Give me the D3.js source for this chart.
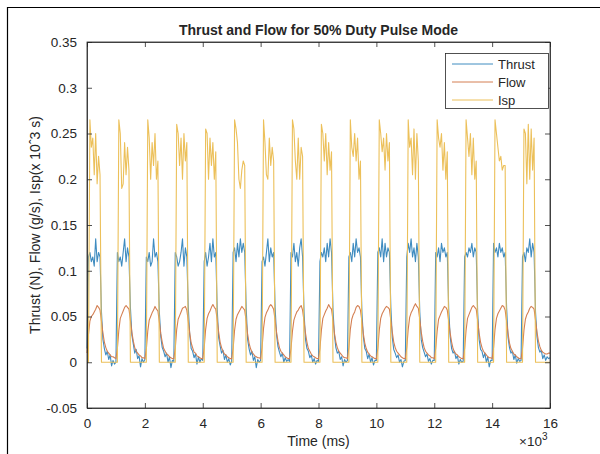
<!DOCTYPE html>
<html>
<head>
<meta charset="utf-8">
<script src="https://cdn.jsdelivr.net/npm/d3@7"></script>
<style>
  body { margin: 0; background: #fff; }
  svg text { font-family: "Liberation Sans", Arial, sans-serif; fill: #262626; }
</style>
</head>
<body>
<div id="chart"></div>
<script>
// sample step of the recording (ms)
const sampleStep = 50;

// one row per 1000 ms pulse period, 20 samples each, plus a last sample at 16000 ms
const thrust = [
  0.015, 0.115, 0.12, 0.11, 0.115, 0.105, 0.135, 0.11, 0.12, 0.115, 0.055, 0.025, 0.015, 0.008, 0.012, 0.003, 0.008, -0.004, 0.002, -0.002,
  0.0, 0.12, 0.11, 0.115, 0.105, 0.12, 0.135, 0.11, 0.125, 0.115, 0.06, 0.03, 0.02, 0.01, 0.014, 0.004, 0.007, -0.005, 0.004, 0.0,
  0.003, 0.115, 0.11, 0.12, 0.105, 0.11, 0.135, 0.115, 0.12, 0.11, 0.055, 0.028, 0.016, 0.012, 0.006, 0.01, 0.0, 0.006, -0.006, 0.002,
  0.001, 0.12, 0.115, 0.105, 0.11, 0.12, 0.135, 0.105, 0.125, 0.115, 0.06, 0.03, 0.015, 0.012, 0.005, 0.009, -0.002, 0.006, 0.0, 0.004,
  0.002, 0.11, 0.12, 0.105, 0.115, 0.13, 0.11, 0.135, 0.115, 0.12, 0.058, 0.027, 0.018, 0.01, 0.013, 0.003, 0.008, 0.0, 0.004, -0.003,
  0.001, 0.12, 0.125, 0.11, 0.13, 0.115, 0.135, 0.12, 0.13, 0.12, 0.06, 0.025, 0.015, 0.008, 0.012, 0.002, 0.006, -0.006, 0.003, 0.0,
  0.002, 0.11, 0.115, 0.105, 0.12, 0.135, 0.11, 0.125, 0.115, 0.12, 0.06, 0.03, 0.017, 0.011, 0.006, 0.01, 0.0, 0.005, 0.001, 0.003,
  0.001, 0.12, 0.115, 0.13, 0.11, 0.12, 0.105, 0.125, 0.135, 0.115, 0.055, 0.025, 0.015, 0.012, 0.005, 0.008, 0.0, 0.004, -0.002, 0.002,
  0.001, 0.11, 0.12, 0.115, 0.125, 0.11, 0.13, 0.115, 0.135, 0.12, 0.058, 0.03, 0.016, 0.01, 0.012, 0.003, 0.006, -0.004, 0.003, 0.0,
  0.002, 0.115, 0.12, 0.11, 0.13, 0.115, 0.135, 0.12, 0.125, 0.115, 0.055, 0.028, 0.015, 0.012, 0.004, 0.009, 0.0, 0.005, -0.003, 0.002,
  0.002, 0.12, 0.125, 0.115, 0.135, 0.11, 0.13, 0.115, 0.125, 0.12, 0.06, 0.027, 0.014, 0.01, 0.005, 0.008, 0.0, 0.003, -0.005, 0.001,
  0.002, 0.115, 0.13, 0.12, 0.135, 0.115, 0.125, 0.11, 0.13, 0.115, 0.055, 0.025, 0.016, 0.011, 0.006, 0.009, 0.001, 0.004, -0.002, 0.002,
  0.002, 0.12, 0.115, 0.125, 0.11, 0.13, 0.12, 0.125, 0.115, 0.12, 0.058, 0.028, 0.015, 0.01, 0.012, 0.004, 0.007, -0.002, 0.003, 0.0,
  0.001, 0.115, 0.12, 0.115, 0.125, 0.12, 0.13, 0.115, 0.125, 0.12, 0.055, 0.025, 0.014, 0.012, 0.005, 0.01, 0.0, 0.006, -0.005, 0.002,
  0.002, 0.13, 0.12, 0.125, 0.115, 0.13, 0.12, 0.125, 0.115, 0.12, 0.06, 0.027, 0.016, 0.01, 0.012, 0.003, 0.008, -0.001, 0.004, 0.001,
  0.002, 0.115, 0.12, 0.11, 0.125, 0.12, 0.135, 0.115, 0.13, 0.12, 0.055, 0.028, 0.016, 0.011, 0.013, 0.004, 0.008, 0.002, 0.006, 0.004,
  0.005
];

const flow = [
  0.01, 0.03, 0.045, 0.05, 0.052, 0.055, 0.058, 0.062, 0.06, 0.057, 0.045, 0.032, 0.022, 0.016, 0.012, 0.01, 0.008, 0.006, 0.006, 0.005,
  0.004, 0.015, 0.035, 0.048, 0.052, 0.056, 0.06, 0.062, 0.06, 0.058, 0.046, 0.033, 0.023, 0.016, 0.012, 0.01, 0.008, 0.007, 0.005, 0.005,
  0.004, 0.014, 0.034, 0.046, 0.05, 0.054, 0.057, 0.061, 0.058, 0.056, 0.044, 0.031, 0.022, 0.015, 0.012, 0.009, 0.008, 0.006, 0.005, 0.004,
  0.004, 0.015, 0.036, 0.047, 0.051, 0.055, 0.059, 0.06, 0.061, 0.057, 0.045, 0.032, 0.021, 0.016, 0.011, 0.01, 0.007, 0.006, 0.005, 0.004,
  0.004, 0.016, 0.036, 0.048, 0.053, 0.056, 0.06, 0.063, 0.06, 0.058, 0.046, 0.033, 0.022, 0.016, 0.012, 0.009, 0.008, 0.006, 0.005, 0.004,
  0.004, 0.015, 0.035, 0.047, 0.052, 0.055, 0.058, 0.061, 0.059, 0.057, 0.045, 0.031, 0.021, 0.015, 0.011, 0.009, 0.007, 0.006, 0.005, 0.005,
  0.004, 0.016, 0.037, 0.049, 0.054, 0.057, 0.061, 0.063, 0.061, 0.058, 0.046, 0.033, 0.023, 0.016, 0.012, 0.01, 0.008, 0.006, 0.005, 0.004,
  0.004, 0.015, 0.034, 0.046, 0.051, 0.055, 0.057, 0.06, 0.062, 0.057, 0.045, 0.032, 0.022, 0.015, 0.012, 0.009, 0.007, 0.006, 0.005, 0.004,
  0.004, 0.015, 0.035, 0.048, 0.052, 0.056, 0.059, 0.063, 0.06, 0.058, 0.046, 0.032, 0.022, 0.016, 0.012, 0.01, 0.008, 0.006, 0.005, 0.005,
  0.004, 0.016, 0.036, 0.047, 0.052, 0.055, 0.06, 0.062, 0.061, 0.057, 0.045, 0.031, 0.021, 0.015, 0.011, 0.009, 0.007, 0.006, 0.005, 0.004,
  0.004, 0.015, 0.035, 0.048, 0.053, 0.056, 0.059, 0.061, 0.06, 0.058, 0.046, 0.033, 0.022, 0.016, 0.012, 0.01, 0.008, 0.006, 0.005, 0.004,
  0.004, 0.016, 0.036, 0.049, 0.054, 0.057, 0.061, 0.064, 0.061, 0.059, 0.047, 0.033, 0.023, 0.016, 0.012, 0.01, 0.008, 0.007, 0.005, 0.005,
  0.004, 0.015, 0.034, 0.047, 0.051, 0.055, 0.058, 0.061, 0.06, 0.057, 0.045, 0.032, 0.022, 0.015, 0.011, 0.009, 0.008, 0.006, 0.005, 0.004,
  0.004, 0.015, 0.035, 0.048, 0.052, 0.056, 0.06, 0.062, 0.06, 0.058, 0.046, 0.032, 0.022, 0.016, 0.012, 0.01, 0.008, 0.006, 0.005, 0.005,
  0.004, 0.016, 0.036, 0.048, 0.053, 0.056, 0.059, 0.062, 0.061, 0.057, 0.045, 0.032, 0.021, 0.015, 0.012, 0.009, 0.008, 0.006, 0.005, 0.004,
  0.004, 0.015, 0.035, 0.047, 0.052, 0.055, 0.059, 0.061, 0.06, 0.058, 0.046, 0.033, 0.023, 0.017, 0.013, 0.011, 0.01, 0.009, 0.009, 0.01,
  0.01
];

const isp = [
  0, 0, 0.265, 0.235, 0.245, 0.205, 0.25, 0.195, 0.225, 0.205, 0, 0, 0, 0, 0, 0, 0, 0, 0, 0,
  0, 0, 0.265, 0.25, 0.19, 0.195, 0.24, 0.205, 0.235, 0.21, 0, 0, 0, 0, 0, 0, 0, 0, 0, 0,
  0, 0, 0.265, 0.245, 0.2, 0.24, 0.215, 0.25, 0.2, 0.22, 0, 0, 0, 0, 0, 0, 0, 0, 0, 0,
  0, 0, 0.26, 0.25, 0.215, 0.245, 0.2, 0.25, 0.22, 0.24, 0, 0, 0, 0, 0, 0, 0, 0, 0, 0,
  0, 0, 0.255, 0.25, 0.2, 0.245, 0.215, 0.24, 0.2, 0.23, 0, 0, 0, 0, 0, 0, 0, 0, 0, 0,
  0, 0, 0.265, 0.255, 0.24, 0.2, 0.19, 0.21, 0.22, 0.215, 0, 0, 0, 0, 0, 0, 0, 0, 0, 0,
  0, 0, 0.265, 0.24, 0.205, 0.2, 0.245, 0.215, 0.235, 0.22, 0, 0, 0, 0, 0, 0, 0, 0, 0, 0,
  0, 0, 0.265, 0.255, 0.22, 0.2, 0.245, 0.2, 0.235, 0.225, 0, 0, 0, 0, 0, 0, 0, 0, 0, 0,
  0, 0, 0.26, 0.25, 0.22, 0.25, 0.205, 0.24, 0.21, 0.23, 0, 0, 0, 0, 0, 0, 0, 0, 0, 0,
  0, 0, 0.265, 0.235, 0.225, 0.25, 0.22, 0.245, 0.2, 0.22, 0, 0, 0, 0, 0, 0, 0, 0, 0, 0,
  0, 0, 0.265, 0.25, 0.23, 0.245, 0.21, 0.25, 0.22, 0.24, 0, 0, 0, 0, 0, 0, 0, 0, 0, 0,
  0, 0, 0.265, 0.235, 0.245, 0.205, 0.255, 0.2, 0.25, 0.22, 0, 0, 0, 0, 0, 0, 0, 0, 0, 0,
  0, 0, 0.265, 0.245, 0.235, 0.25, 0.21, 0.24, 0.2, 0.23, 0, 0, 0, 0, 0, 0, 0, 0, 0, 0,
  0, 0, 0.265, 0.245, 0.225, 0.25, 0.205, 0.245, 0.2, 0.22, 0, 0, 0, 0, 0, 0, 0, 0, 0, 0,
  0, 0, 0.265, 0.25, 0.235, 0.22, 0.225, 0.21, 0.215, 0.215, 0, 0, 0, 0, 0, 0, 0, 0, 0, 0,
  0, 0, 0.255, 0.25, 0.195, 0.26, 0.2, 0.255, 0.21, 0.245, 0, 0, 0, 0, 0, 0, 0, 0, 0, 0,
  0
];

const seriesNames = ["Thrust", "Flow", "Isp"];
const seriesColors = ["#3f8cc0", "#d47f52", "#ecc05a"];
const xTicks = [0, 2000, 4000, 6000, 8000, 10000, 12000, 14000, 16000];
const yTicks = [-0.05, 0, 0.05, 0.1, 0.15, 0.2, 0.25, 0.3, 0.35];

const width = 600;
const height = 454;
const margin = { top: 42, right: 50, bottom: 46, left: 87 };

const svg = d3.select("#chart").append("svg")
    .attr("width", width)
    .attr("height", height);

// thin frame of the screenshot (top and left edges)
svg.append("line").attr("x1", 7).attr("x2", width).attr("y1", 7.5).attr("y2", 7.5)
    .attr("stroke", "#000").attr("stroke-width", 1.2);
svg.append("line").attr("x1", 7.5).attr("x2", 7.5).attr("y1", 7).attr("y2", height)
    .attr("stroke", "#000").attr("stroke-width", 1.2);

const xScale = d3.scaleLinear()
    .domain([0, 16000])
    .range([margin.left, width - margin.right]);

const yScale = d3.scaleLinear()
    .domain([-0.05, 0.35])
    .range([height - margin.bottom, margin.top]);

const allSeries = [thrust, flow, isp];

const line = d3.line()
    .x((d, i) => xScale(i * sampleStep))
    .y(d => yScale(d));

const plot = svg.append("g");

allSeries.forEach((s, i) => {
    plot.append("path")
        .datum(s)
        .attr("fill", "none")
        .attr("stroke", seriesColors[i])
        .attr("stroke-width", 1.1)
        .attr("stroke-linejoin", "round")
        .attr("d", line);
});

// axes, MATLAB style: ticks pointing inward on all four sides
const axisColor = "#262626";
const tickLen = 5;

const xAxis = svg.append("g")
    .attr("transform", `translate(0, ${height - margin.bottom})`)
    .call(d3.axisBottom(xScale).tickValues(xTicks).tickSizeInner(-tickLen).tickSizeOuter(0)
        .tickPadding(10).tickFormat(d => d / 1000));

const xAxisTop = svg.append("g")
    .attr("transform", `translate(0, ${margin.top})`)
    .call(d3.axisTop(xScale).tickValues(xTicks).tickSizeInner(-tickLen).tickSizeOuter(0).tickFormat(""));

// plain hyphen for negatives, as in the original figure
const yAxis = svg.append("g")
    .attr("transform", `translate(${margin.left}, 0)`)
    .call(d3.axisLeft(yScale).tickValues(yTicks).tickSizeInner(-tickLen).tickSizeOuter(0)
        .tickPadding(10).tickFormat(d => String(+d.toFixed(2))));

const yAxisRight = svg.append("g")
    .attr("transform", `translate(${width - margin.right}, 0)`)
    .call(d3.axisRight(yScale).tickValues(yTicks).tickSizeInner(-tickLen).tickSizeOuter(0).tickFormat(""));

[xAxis, xAxisTop, yAxis, yAxisRight].forEach(a => {
    a.select(".domain").attr("stroke", axisColor).attr("stroke-width", 0.8);
    a.selectAll(".tick line").attr("stroke", axisColor).attr("stroke-width", 0.8);
    a.selectAll("text").attr("fill", axisColor).style("font-size", "13.5px");
});

// close the box at the corners
svg.append("rect")
    .attr("x", margin.left)
    .attr("y", margin.top)
    .attr("width", width - margin.right - margin.left)
    .attr("height", height - margin.bottom - margin.top)
    .attr("fill", "none")
    .attr("stroke", axisColor)
    .attr("stroke-width", 0.8);

// title
svg.append("text")
    .attr("x", (margin.left + width - margin.right) / 2)
    .attr("y", 35)
    .attr("text-anchor", "middle")
    .style("font-size", "14px")
    .style("font-weight", "bold")
    .text("Thrust and Flow for 50% Duty Pulse Mode");

// x label
svg.append("text")
    .attr("x", (margin.left + width - margin.right) / 2)
    .attr("y", 446)
    .attr("text-anchor", "middle")
    .style("font-size", "14px")
    .text("Time (ms)");

// x exponent
const expo = svg.append("text")
    .attr("x", 519)
    .attr("y", 446)
    .style("font-size", "13.5px");
expo.append("tspan").text("×10");
expo.append("tspan").attr("dy", -6).style("font-size", "10px").text("3");

// y label
svg.append("text")
    .attr("transform", `translate(40, ${(margin.top + height - margin.bottom) / 2}) rotate(-90)`)
    .attr("text-anchor", "middle")
    .style("font-size", "14px")
    .text("Thrust (N), Flow (g/s), Isp(x 10ˆ3 s)");

// legend
const legend = svg.append("g")
    .attr("transform", "translate(445, 53)");

legend.append("rect")
    .attr("x", 0.5)
    .attr("y", 0.5)
    .attr("width", 103)
    .attr("height", 55)
    .attr("fill", "#fff")
    .attr("stroke", axisColor)
    .attr("stroke-width", 0.8);

seriesNames.forEach((name, i) => {
    const yy = 11 + i * 18;
    legend.append("line")
        .attr("x1", 7)
        .attr("x2", 48)
        .attr("y1", yy)
        .attr("y2", yy)
        .attr("stroke", seriesColors[i])
        .attr("stroke-width", 1);
    legend.append("text")
        .attr("x", 53)
        .attr("y", yy)
        .attr("dy", "0.35em")
        .style("font-size", "13px")
        .text(name);
});
</script>
</body>
</html>
